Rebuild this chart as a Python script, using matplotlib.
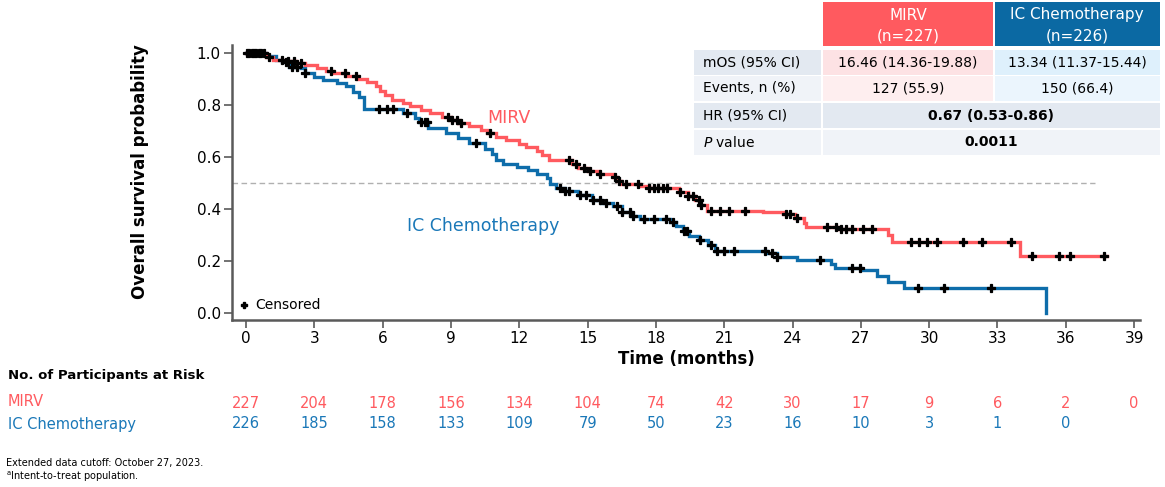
import numpy as np
import matplotlib
matplotlib.use('Agg')
import matplotlib.pyplot as plt
import matplotlib.transforms as mtransforms
from matplotlib.patches import Rectangle
from matplotlib.lines import Line2D

plt.rcParams['font.family'] = ['DejaVu Sans']

RED = '#FF5A5F'
BLUE = '#0E6DAA'
TXT_BLUE = '#1A78B8'

# Kaplan-Meier steps: (time of drop, survival after drop)
mirv_t = [0, 0.9, 1.2, 1.7, 2.2, 2.6, 3.1, 3.5, 3.8, 4.4, 4.9, 5.3, 5.7, 5.9, 6.1,
          6.4, 6.9, 7.2, 7.7, 8.1, 8.6, 9.0, 9.3, 9.8, 10.3, 10.6, 11.0, 11.4, 12.0,
          12.3, 12.8, 13.0, 13.3, 14.3, 14.6, 15.0, 15.5, 16.1, 16.3, 16.46, 17.3,
          17.7, 19.0, 19.4, 19.7, 19.95, 20.25, 22.7, 23.6, 24.1, 24.5, 24.6, 26.0,
          28.2, 28.35, 34.0]
mirv_s = [1.0, 0.985, 0.975, 0.968, 0.962, 0.954, 0.941, 0.93, 0.922, 0.912, 0.899,
          0.89, 0.875, 0.855, 0.838, 0.819, 0.807, 0.798, 0.78, 0.768, 0.755, 0.742,
          0.732, 0.719, 0.703, 0.692, 0.678, 0.665, 0.652, 0.638, 0.625, 0.608, 0.588,
          0.572, 0.557, 0.548, 0.535, 0.524, 0.508, 0.498, 0.49, 0.482, 0.465, 0.45,
          0.436, 0.415, 0.393, 0.388, 0.38, 0.364, 0.345, 0.332, 0.322, 0.3, 0.274,
          0.219]
mirv_last = 37.8

ic_t = [0, 0.9, 1.3, 1.6, 1.9, 2.4, 2.6, 3.0, 3.4, 4.0, 4.4, 4.7, 4.95, 5.2, 6.9,
        7.4, 7.6, 8.0, 8.8, 9.3, 9.8, 10.5, 10.8, 11.0, 11.3, 11.9, 12.4, 12.8, 13.2,
        13.34, 13.6, 14.0, 14.6, 15.2, 15.6, 16.1, 16.5, 16.9, 17.3, 18.6, 18.9,
        19.2, 19.45, 19.9, 20.3, 20.6, 22.9, 23.3, 24.2, 25.7, 25.85, 27.0, 27.7,
        28.2, 28.9, 35.15]
ic_s = [1.0, 0.987, 0.975, 0.967, 0.948, 0.941, 0.922, 0.909, 0.896, 0.886, 0.872,
        0.85, 0.83, 0.785, 0.77, 0.75, 0.735, 0.71, 0.692, 0.675, 0.655, 0.632, 0.61,
        0.59, 0.575, 0.562, 0.55, 0.535, 0.52, 0.498, 0.48, 0.47, 0.455, 0.435, 0.425,
        0.41, 0.39, 0.372, 0.362, 0.35, 0.335, 0.315, 0.295, 0.28, 0.26, 0.24, 0.23,
        0.215, 0.204, 0.19, 0.172, 0.165, 0.142, 0.12, 0.095, 0.0]

mirv_cens = [0.05, 0.25, 0.45, 0.65, 1.0, 1.6, 1.85, 2.1, 2.4, 3.75, 4.35, 4.85, 8.85,
             9.05, 9.25, 9.45, 10.7, 14.2, 14.5, 14.85, 15.1, 15.55, 16.2, 16.4, 16.7,
             17.2, 17.7, 17.9, 18.1, 18.3, 18.5, 19.05, 19.4, 19.65, 19.9, 20.0, 20.4,
             20.8, 21.2, 21.9, 23.7, 23.9, 24.2, 25.5, 25.9, 26.15, 26.35, 26.6, 27.1,
             27.5, 29.2, 29.55, 29.9, 30.35, 31.5, 32.3, 33.6, 34.5, 35.7, 36.2, 37.7]
ic_cens = [0.15, 0.35, 0.55, 0.8, 1.75, 2.0, 2.25, 2.6, 5.85, 6.2, 6.45, 7.05, 7.7,
           7.85, 7.95, 10.1, 13.8, 14.0, 14.2, 14.65, 14.95, 15.25, 15.55, 15.8, 16.3,
           16.5, 16.85, 17.0, 17.5, 17.9, 18.45, 18.75, 19.25, 19.35, 19.95, 20.4,
           20.7, 21.0, 21.45, 22.8, 23.1, 23.3, 25.2, 26.6, 26.95, 29.5, 30.65, 32.7]

risk_months = [0, 3, 6, 9, 12, 15, 18, 21, 24, 27, 30, 33, 36, 39]
mirv_risk = [227, 204, 178, 156, 134, 104, 74, 42, 30, 17, 9, 6, 2, 0]
ic_risk = [226, 185, 158, 133, 109, 79, 50, 23, 16, 10, 3, 1, 0]

row_labels = ['mOS (95% CI)', 'Events, n (%)', 'HR (95% CI)', r'$P$ value']
mirv_vals = ['16.46 (14.36-19.88)', '127 (55.9)']
ic_vals = ['13.34 (11.37-15.44)', '150 (66.4)']
shared_vals = ['0.67 (0.53-0.86)', '0.0011']

W, H = 1165, 487
fig = plt.figure(figsize=(W / 100, H / 100), dpi=100)


def fx(x):
    return x / W


def fy(y):
    return 1 - y / H


xmin, xmax = -0.615, 39.26
ymin, ymax = -0.027, 1.031
ax = fig.add_axes([fx(232), fy(320), fx(1140) - fx(232), fy(45) - fy(320)])
ax.set_xlim(xmin, xmax)
ax.set_ylim(ymin, ymax)

ax.axhline(0.5, xmin=0, xmax=(37.3 - xmin) / (xmax - xmin), color='#B0B0B0',
           lw=1.0, ls=(0, (4, 2.5)), zorder=1)


def step_xy(t, s, last=None):
    t = list(t)
    s = list(s)
    if last is not None:
        t.append(last)
        s.append(s[-1])
    return t, s


def cens_y(t, s, c):
    idx = np.searchsorted(np.array(t), np.array(c), side='right') - 1
    return np.array(s)[idx]


xt, ys = step_xy(ic_t, ic_s)
ax.step(xt, ys, where='post', color=BLUE, lw=2.4, zorder=2, solid_joinstyle='miter')
xt, ys = step_xy(mirv_t, mirv_s, mirv_last)
ax.step(xt, ys, where='post', color=RED, lw=2.4, zorder=3, solid_joinstyle='miter')

ax.plot(ic_cens, cens_y(ic_t, ic_s, ic_cens), ls='none', marker='P', ms=5.8,
        mew=0.9, color='black', mec='black', zorder=4)
ax.plot(mirv_cens, cens_y(mirv_t, mirv_s, mirv_cens), ls='none', marker='P', ms=5.8,
        mew=0.9, color='black', mec='black', zorder=4)

ax.text(11.55, 0.752, 'MIRV', color=RED, fontsize=12.5, ha='center', va='center')
ax.text(10.4, 0.335, 'IC Chemotherapy', color=TXT_BLUE, fontsize=12.5,
        ha='center', va='center')

leg_handle = Line2D([], [], ls='none', marker='P', ms=5, color='black')
ax.legend([leg_handle], ['Censored'], loc='lower left', bbox_to_anchor=(0.0, 0.0),
          frameon=False, fontsize=10, handlelength=0.6, handletextpad=0.5,
          borderpad=0.35, borderaxespad=0.2)

for side in ['top', 'right']:
    ax.spines[side].set_visible(False)
for side in ['left', 'bottom']:
    ax.spines[side].set_color('#5A5A5A')
    ax.spines[side].set_linewidth(1.8)

ax.set_xticks(risk_months)
ax.set_yticks([0, 0.2, 0.4, 0.6, 0.8, 1.0])
ax.set_yticklabels(['0.0', '0.2', '0.4', '0.6', '0.8', '1.0'])
ax.tick_params(axis='both', labelsize=11, color='#5A5A5A', width=1.2, length=6, pad=2)
ax.set_xlabel('Time (months)', fontsize=12, fontweight='bold', labelpad=3)

fig.text(fx(140), fy(172), 'Overall survival probability', rotation=90, ha='center',
         va='center', fontsize=12, fontweight='bold')

# Numbers at risk
tr = mtransforms.blended_transform_factory(ax.transData, fig.transFigure)
fig.text(fx(8), fy(376), 'No. of Participants at Risk', fontsize=9.5,
         fontweight='bold', ha='left', va='center')
fig.text(fx(8), fy(401), 'MIRV', fontsize=10.5, color=RED, ha='left', va='center')
fig.text(fx(8), fy(424), 'IC Chemotherapy', fontsize=10.5, color=TXT_BLUE,
         ha='left', va='center')
for m, n in zip(risk_months, mirv_risk):
    fig.text(m, fy(404), str(n), transform=tr, fontsize=10.5, color=RED,
             ha='center', va='center')
for m, n in zip(risk_months, ic_risk):
    fig.text(m, fy(424), str(n), transform=tr, fontsize=10.5, color=TXT_BLUE,
             ha='center', va='center')

fig.text(fx(6), fy(463), 'Extended data cutoff: October 27, 2023.', fontsize=7,
         ha='left', va='center')
fig.text(fx(6), fy(477), r'$^{\rm a}$Intent-to-treat population.', fontsize=7,
         ha='left', va='center')

# Summary table in the top right
c0, c1, c2, c3 = 694, 822, 994, 1160
rows = [(50, 75), (76, 101), (103, 128), (130, 155)]
lab_bg = ['#E3E9F1', '#F0F3F8', '#E3E9F1', '#F0F3F8']
mirv_bg = ['#FDE2E4', '#FEEEEF']
ic_bg = ['#DEF0FC', '#EBF5FD']


def cell(x0, x1, y0, y1, color):
    fig.patches.append(Rectangle((fx(x0), fy(y1)), fx(x1) - fx(x0), fy(y0) - fy(y1),
                                 transform=fig.transFigure, facecolor=color,
                                 edgecolor='none', zorder=0))


cell(c1 + 1, c2 - 1, 2, 46, RED)
cell(c2 + 1, c3, 2, 46, '#0B69A3')
fig.text(fx((c1 + c2) / 2), fy(15), 'MIRV', color='white', fontsize=11,
         ha='center', va='center')
fig.text(fx((c1 + c2) / 2), fy(36), '(n=227)', color='white', fontsize=11,
         ha='center', va='center')
fig.text(fx((c2 + c3) / 2), fy(15), 'IC Chemotherapy', color='white', fontsize=11,
         ha='center', va='center')
fig.text(fx((c2 + c3) / 2), fy(36), '(n=226)', color='white', fontsize=11,
         ha='center', va='center')

for i, (y0, y1) in enumerate(rows):
    yc = fy((y0 + y1) / 2)
    cell(c0, c1 - 1, y0, y1, lab_bg[i])
    fig.text(fx(703), yc, row_labels[i], fontsize=10, ha='left', va='center')
    if i < 2:
        cell(c1 + 1, c2 - 1, y0, y1, mirv_bg[i])
        cell(c2 + 1, c3, y0, y1, ic_bg[i])
        fig.text(fx((c1 + c2) / 2), yc, mirv_vals[i], fontsize=10, ha='center',
                 va='center')
        fig.text(fx((c2 + c3) / 2), yc, ic_vals[i], fontsize=10, ha='center',
                 va='center')
    else:
        cell(c1 + 1, c3, y0, y1, lab_bg[i])
        fig.text(fx((c1 + c3) / 2), yc, shared_vals[i - 2], fontsize=10,
                 fontweight='bold', ha='center', va='center')

fig.savefig('out.png', dpi=100)
